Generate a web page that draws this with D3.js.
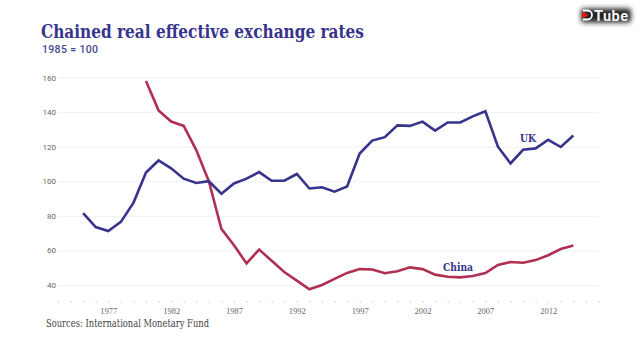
<!DOCTYPE html>
<html>
<head>
<meta charset="utf-8">
<script src="https://cdn.jsdelivr.net/npm/d3@7"></script>
<style>
	html, body { margin: 0; padding: 0; background: #fff; overflow: hidden; }
	text { font-family: "DejaVu Serif", serif; }
</style>
</head>
<body>
<svg id="chart" width="640" height="360"></svg>
<script>
// values
var ukYears = d3.range(1975, 2015);
var ukValues = [81.5, 73.5, 71.2, 76.5, 87.5, 105, 112, 107.5, 101.5, 99,
	100, 92.8, 98.7, 101.5, 105.3, 100.3, 100.3, 104.2, 95.8, 96.5,
	94, 97, 116, 123.5, 125.5, 132.3, 132, 134.5, 129.3, 134,
	134, 137.5, 140.5, 120, 110.3, 118.2, 119, 124, 119.8, 126.5];
var chinaYears = d3.range(1980, 2015);
var chinaValues = [158, 141, 134.5, 132, 118, 100, 72.5, 63, 52.5, 60.5,
	54, 47.5, 42.5, 37.5, 40, 43.5, 47, 49.2, 49, 46.8,
	47.9, 50.2, 49.2, 46, 44.8, 44.4, 45.2, 46.9, 51.6, 53.3,
	52.9, 54.4, 57.2, 60.8, 62.9];
var yTicks = [40, 60, 80, 100, 120, 140, 160];
var xLabels = [1977, 1982, 1987, 1992, 1997, 2002, 2007, 2012];

var navy = "#36348c";
var red = "#b03052";

var svg = d3.select("#chart");
var x = d3.scaleLinear().domain([1973, 2016]).range([58, 598.5]);
var y = d3.scaleLinear().domain([40, 160]).range([285, 77.5]);

//Grid and y labels
var yAxis = d3.axisLeft(y).tickValues(yTicks).tickSize(-(598.5 - 58)).tickPadding(2);
var yG = svg.append("g").attr("transform", "translate(58,0)").call(yAxis);
yG.select(".domain").remove();
yG.selectAll("line").attr("stroke", "#f1f1f5");
yG.selectAll("text")
	.attr("fill", "#666")
	.style("font-family", "Roboto")
	.style("font-size", "8px");

//Small ticks for every year, labels only every five
var xAxis = d3.axisBottom(x)
	.tickValues(d3.range(1973, 2017))
	.tickSize(1.5)
	.tickPadding(5)
	.tickFormat(function(d){ return xLabels.indexOf(d) >= 0 ? d : ""; });
var xG = svg.append("g").attr("transform", "translate(0,301)").call(xAxis);
xG.select(".domain").remove();
xG.selectAll("line").attr("stroke", "#ccc");
xG.selectAll("text")
	.attr("fill", "#666")
	.style("font-family", "Liberation Serif")
	.style("font-size", "8.5px");

var line = d3.line()
	.x(function(d){ return x(d[0]); })
	.y(function(d){ return y(d[1]); });

svg.append("path")
	.datum(d3.zip(chinaYears, chinaValues))
	.attr("d", line)
	.attr("fill", "none")
	.attr("stroke", red)
	.attr("stroke-width", 2.6);
svg.append("path")
	.datum(d3.zip(ukYears, ukValues))
	.attr("d", line)
	.attr("fill", "none")
	.attr("stroke", navy)
	.attr("stroke-width", 2.6);

//Titles
svg.append("text").attr("x", 41).attr("y", 38)
	.attr("fill", navy)
	.style("font-size", "18.5px").style("font-weight", "bold")
	.attr("textLength", 323).attr("lengthAdjust", "spacingAndGlyphs")
	.text("Chained real effective exchange rates");
svg.append("text").attr("x", 42).attr("y", 53)
	.attr("fill", "#444a8c")
	.style("font-family", "Roboto").style("font-size", "10.5px").style("font-weight", "500")
	.attr("textLength", 56).attr("lengthAdjust", "spacing")
	.text("1985 = 100");
svg.append("text").attr("x", 46).attr("y", 327)
	.attr("fill", "#444")
	.style("font-size", "10.2px")
	.attr("textLength", 163).attr("lengthAdjust", "spacingAndGlyphs")
	.text("Sources: International Monetary Fund");

//Series labels
svg.append("text").attr("x", 520).attr("y", 141.5)
	.attr("fill", navy).style("font-size", "11px").style("font-weight", "bold")
	.attr("textLength", 16).attr("lengthAdjust", "spacingAndGlyphs")
	.text("UK");
svg.append("text").attr("x", 443).attr("y", 270.5)
	.attr("fill", navy).style("font-size", "11px").style("font-weight", "bold")
	.attr("textLength", 30).attr("lengthAdjust", "spacingAndGlyphs")
	.text("China");

//Watermark
var blur = svg.append("defs").append("filter").attr("id", "blur")
	.attr("x", "-30%").attr("y", "-60%").attr("width", "160%").attr("height", "220%");
blur.append("feGaussianBlur").attr("stdDeviation", 2.5);
var logo = svg.append("g");
logo.append("rect").attr("x", 581).attr("y", 8.5).attr("width", 50).attr("height", 14)
	.attr("rx", 3).attr("fill", "#222").attr("filter", "url(#blur)");
logo.append("path").attr("d", "M583,10.5h4.5a4.5,4.5 0 0 1 0,9h-4.5")
	.attr("fill", "none").attr("stroke", "#fff").attr("stroke-width", 1.8);
logo.append("path").attr("d", "M582,11.5l7,3.5l-7,3.5z").attr("fill", "#e01818");
logo.append("text").attr("x", 594).attr("y", 20.5)
	.attr("fill", "#f2f2f2")
	.style("font-family", "Roboto").style("font-size", "14.5px").style("font-weight", "700")
	.attr("textLength", 34).attr("lengthAdjust", "spacing")
	.text("Tube");
</script>
</body>
</html>
